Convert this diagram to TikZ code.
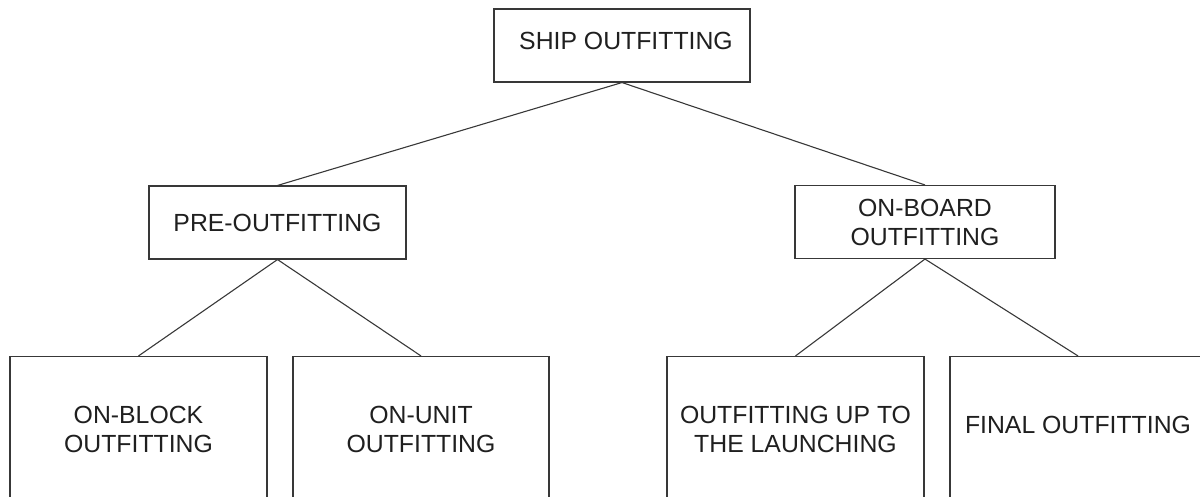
\documentclass[tikz,border=0pt]{standalone}
\usepackage{fontspec}
\setmainfont{Liberation Sans}
\begin{document}
\begin{tikzpicture}[x=1pt,y=-1pt,
  box/.style={draw=black!78, line width=1.1pt, inner sep=0pt, align=center,
    text=black!88, font=\fontsize{24.8}{29}\selectfont,
    minimum width=#1},
  small/.style={minimum height=73pt},
  tall/.style={minimum height=146pt},
  raised/.style={text height=#1, text depth=0pt},
  link/.style={draw=black!78, line width=1.1pt}]
\useasboundingbox (0,0) rectangle (1200,497);
\clip (0,0) rectangle (1200,497);

% root
\node[box=256pt, small, raised=8.8pt] (ship) at (622,45.5) {\hspace*{8pt}SHIP OUTFITTING};

% second level
\node[box=257pt, small] (pre) at (277.5,222.5) {PRE-OUTFITTING};
\node[box=260pt, small] (board) at (925,222) {ON-BOARD\\OUTFITTING};

% third level
\node[box=257pt, tall] (block) at (138.5,429.5) {ON-BLOCK\\OUTFITTING};
\node[box=256pt, tall] (unit) at (421,429.5) {ON-UNIT\\OUTFITTING};
\node[box=257pt, tall] (launch) at (795.5,429.5) {OUTFITTING UP TO\\THE LAUNCHING};
\node[box=256pt, tall, raised=7.8pt] (final) at (1078,429.5) {FINAL OUTFITTING};

% connectors
\draw[link] (ship.south) -- (pre.north);
\draw[link] (ship.south) -- (board.north);
\draw[link] (pre.south) -- (block.north);
\draw[link] (pre.south) -- (unit.north);
\draw[link] (board.south) -- (launch.north);
\draw[link] (board.south) -- (final.north);
\end{tikzpicture}
\end{document}
